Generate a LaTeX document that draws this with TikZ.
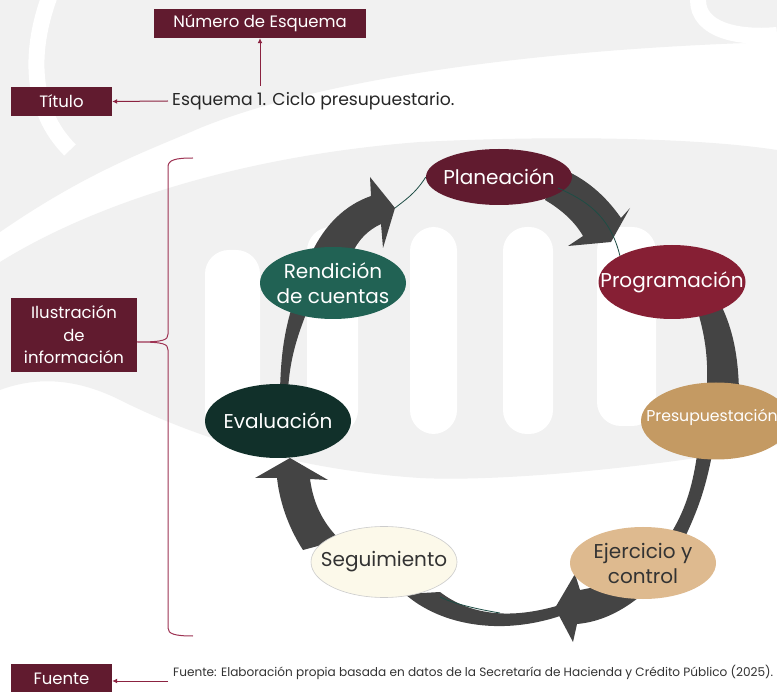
\documentclass[tikz,border=0pt]{standalone}
\usepackage{fontspec}
\setmainfont{Poppins}
\usetikzlibrary{shapes.geometric,arrows.meta}
\definecolor{maroon}{HTML}{611B2F}
\definecolor{crimson}{HTML}{861F34}
\definecolor{arrowred}{HTML}{8B2240}
\definecolor{bracketred}{HTML}{9E3353}
\definecolor{tan}{HTML}{C49A63}
\definecolor{lighttan}{HTML}{DEBA8F}
\definecolor{cream}{HTML}{FCF9EA}
\definecolor{darkgreen}{HTML}{11302A}
\definecolor{teal}{HTML}{216254}
\definecolor{blockgray}{HTML}{444444}
\definecolor{wm}{HTML}{F1F1F1}
\definecolor{thingreen}{HTML}{1E4D45}
\definecolor{darktext}{HTML}{333333}
\begin{document}
\begin{tikzpicture}[x=1pt,y=-1pt,
  box/.style={fill=maroon, text=white, inner sep=0pt, font=\fontsize{16.5}{22.5}\selectfont, align=center},
  ell/.style={ellipse, inner sep=0pt},
  lbl/.style={font=\fontsize{20}{25}\selectfont, align=center, inner sep=0pt},
  arr/.style={draw=arrowred, line width=1pt, -{Latex[length=5pt,width=5pt]}},
  blockarrow/.style={fill=blockgray},
  thin/.style={draw=thingreen, line width=0.8pt},
  pillar/.style={fill=white, rounded corners=24pt}
]
\useasboundingbox (0,0) rectangle (777,692);
\clip (0,0) rectangle (777,692);
\fill[white] (0,0) rectangle (777,692);
% watermark
\fill[wm] (0,0) -- (777,0) -- (777,42) .. controls (560,48) and (330,75) .. (200,128)
  .. controls (150,150) and (90,170) .. (0,232) -- cycle;
\draw[white, line width=16pt] (52,-10) .. controls (28,50) and (30,110) .. (70,150);
\draw[white, line width=16pt] (700,-10) .. controls (690,20) and (720,40) .. (777,35);
\fill[wm] (0,262) .. controls (100,200) and (250,155) .. (420,142)
  .. controls (560,135) and (700,138) .. (777,150) -- (777,445)
  .. controls (650,468) and (500,482) .. (420,478)
  .. controls (300,470) and (200,440) .. (120,400)
  .. controls (80,380) and (40,375) .. (0,390) -- cycle;
\fill[pillar] (205,250) rectangle (260,436);
\fill[pillar] (307,227) rectangle (358,434);
\fill[pillar] (410,227) rectangle (457,434);
\fill[pillar] (503,227) rectangle (553,434);
\fill[pillar] (597,227) rectangle (656,426);

% block arrows
% Rendicion -> Planeacion
\fill[blockarrow] (312,252) .. controls (325,225) and (345,205) .. (371,196) -- (370,177) -- (395,208)
  -- (383,248) -- (381,224) .. controls (368,230) and (358,240) .. (352,254) -- cycle;
% Planeacion -> Programacion
\fill[blockarrow] (560,168) .. controls (585,178) and (605,195) .. (621,218) -- (630,208) -- (611,242)
  -- (568,246) -- (583,236) .. controls (575,222) and (562,210) .. (545,200) -- cycle;
% Programacion -> Presupuestacion
\fill[blockarrow] (698,312) .. controls (706,340) and (708,360) .. (707,390) -- (739,390)
  .. controls (738,355) and (733,330) .. (721,305) -- cycle;
% Presupuestacion -> Ejercicio
\fill[blockarrow] (697,455) .. controls (692,490) and (684,512) .. (670,535) -- (686,535)
  .. controls (700,505) and (706,485) .. (712,455) -- cycle;
% head near Ejercicio
\fill[blockarrow] (575,574) -- (555,608) -- (573,642) -- (577,624)
  .. controls (600,622) and (620,612) .. (638,598) -- (605,585) -- (580,590) -- cycle;
% Ejercicio -> Seguimiento band
\fill[blockarrow] (405,594) .. controls (440,625) and (500,636) .. (560,616) -- (560,605)
  .. controls (510,620) and (470,615) .. (440,592) -- cycle;
% Seguimiento -> Evaluacion
\fill[blockarrow] (303,550) .. controls (290,530) and (280,505) .. (277,478) -- (255,478) -- (290,458)
  -- (328,480) -- (310,479) .. controls (313,500) and (320,520) .. (340,540) -- cycle;
% Evaluacion -> Rendicion
\fill[blockarrow] (280,390) .. controls (281,355) and (284,335) .. (291,310) -- (306,314)
  .. controls (296,340) and (290,360) .. (288,390) -- cycle;

% ellipses
\node[ell, fill=maroon, minimum width=146pt, minimum height=56pt] (plan) at (499,177) {};
\node[ell, fill=crimson, minimum width=147pt, minimum height=74pt] (prog) at (672,282) {};
\node[ell, fill=tan, minimum width=150pt, minimum height=77pt] (pres) at (716,421) {};
\node[ell, fill=lighttan, minimum width=146pt, minimum height=72pt] (ejer) at (643,563) {};
\node[ell, fill=cream, draw=black!20, line width=0.6pt, minimum width=146pt, minimum height=71pt] (segu) at (384,562) {};
\node[ell, fill=darkgreen, minimum width=146pt, minimum height=74pt] (eval) at (278,421) {};
\node[ell, fill=teal, minimum width=146pt, minimum height=72pt] (rend) at (333,283) {};

% thin connector lines
\draw[thin] (395,208) .. controls (405,200) and (415,194) .. (plan.west);
\draw[thin] (558,188) .. controls (585,200) and (610,215) .. (prog.north west);
\draw[thin] (440,597) .. controls (450,602) and (470,608) .. (500,613);

\node[lbl, text=white] (plan-t) at (plan) {Planeación};
\node[lbl, text=white] (prog-t) at (prog) {Programación};
\node[lbl, text=white, font=\fontsize{15.7}{18}\selectfont] (pres-t) at (712,417) {Presupuestación};
\node[lbl, text=darktext] (ejer-t) at (ejer) {Ejercicio y\\control};
\node[lbl, text=darktext] (segu-t) at (segu) {Seguimiento};
\node[lbl, text=white] (eval-t) at (eval) {Evaluación};
\node[lbl, text=white] (rend-t) at (rend) {Rendición\\de cuentas};

% header
\node[box, minimum width=212pt, minimum height=29pt] (num) at (260,23.5) {Número de Esquema};
\node[box, minimum width=101pt, minimum height=29pt] (tit) at (61.5,101.5) {Título};
\node[anchor=west, inner sep=0pt, font=\fontsize{17.2}{20}\selectfont, text=black!85] (esq) at (172,101) {Esquema 1. Ciclo presupuestario.};
\coordinate (numstart) at (260,86);
\coordinate (titstart) at (168,101);
\draw[arr] (numstart) -- (num.south);
\draw[arr] (titstart) -- (tit.east);

% bracket and info box
\node[box, minimum width=126pt, minimum height=74pt] (ilu) at (74,335) {Ilustración\\de\\información};
\coordinate (brtop) at (193,158);
\coordinate (brbot) at (193,636);
\draw[bracketred, line width=1pt] (brtop) .. controls (175,158) and (168,160) .. (168,167) -- (168,334)
  .. controls (168,340) and (164,342) .. (ilu.east |- 0,342)
  .. controls (164,342) and (168,344) .. (168,350) -- (168,628) .. controls (168,634) and (175,636) .. (brbot);

% source
\node[box, minimum width=101pt, minimum height=30pt] (fue) at (61.5,679) {Fuente};
\node[anchor=west, inner sep=0pt, font=\fontsize{12.1}{14}\selectfont, text=black!80] (src) at (173,672) {Fuente: Elaboración propia basada en datos de la Secretaría de Hacienda y Crédito Público (2025).};
\coordinate (fuestart) at (168,681);
\draw[arr] (fuestart) -- (fue.east |- fuestart);
\end{tikzpicture}
\end{document}
